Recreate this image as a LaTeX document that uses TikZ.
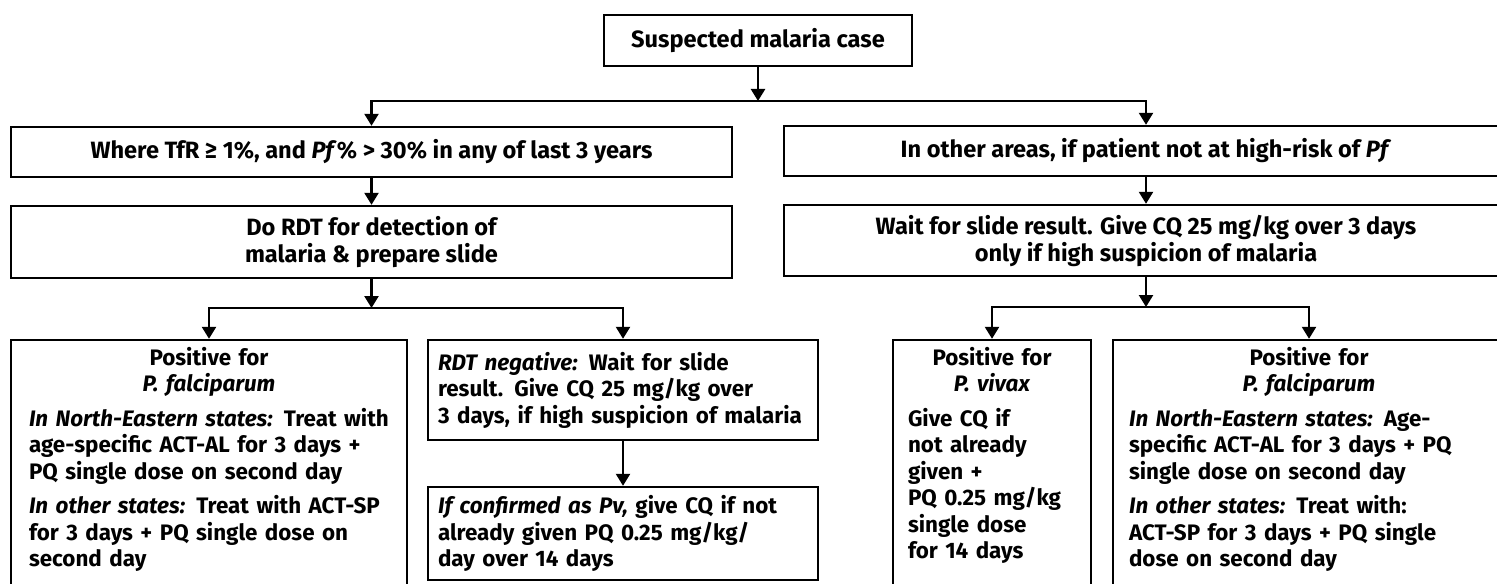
\documentclass[tikz,border=0pt]{standalone}
\usepackage{fontspec}
\setmainfont{Fira Sans}
\usetikzlibrary{arrows.meta}

\tikzset{
  box/.style={draw, line width=1.2pt, inner sep=0pt},
  boxtext/.style={font=\fontsize{11.2}{13.25}\selectfont\bfseries},
  toptext/.style={font=\fontsize{11.8}{13.5}\selectfont\bfseries},
  arrowline/.style={line width=1.2pt, -{Triangle[width=7pt,length=6pt]}},
}

\begin{document}
\begin{tikzpicture}[x=0.5pt,y=0.5pt,yscale=-1]
	\useasboundingbox (0,0) rectangle (1497,583);
	\clip (0,0) rectangle (1497,583);

	% Top box
	\node[box, toptext, minimum width=154pt, minimum height=25.5pt] (case) at (758,40.5) {Suspected malaria case};

	% First row
	\node[box, toptext, minimum width=360.5pt, minimum height=25pt] (where) at (371.5,152) {Where TfR ≥ 1\%, and \textit{Pf}\% > 30\% in any of last 3 years};
	\node[box, toptext, minimum width=362pt, minimum height=25pt] (other) at (1146,151) {In other areas, if patient not at high-risk of \textit{Pf}};

	% Second row
	\node[box, toptext, align=center, minimum width=360.5pt, minimum height=36pt] (rdt) at (371.5,242) {Do RDT for detection of\\malaria \& prepare slide};
	\node[box, toptext, align=center, minimum width=362pt, minimum height=35.5pt] (wait) at (1146,240.5) {Wait for slide result. Give CQ 25 mg/kg over 3 days\\only if high suspicion of malaria};

	% Third row, left side
	\node[box, minimum width=198pt, minimum height=130pt] (pfL) at (209,470) {};
	\node[box, boxtext, align=left, inner xsep=5pt, text width=185pt, minimum height=50pt] (neg) at (623,390) {\textit{RDT negative:} Wait for slide\\result. Give CQ 25 mg/kg over\\3 days, if high suspicion of malaria};
	\node[box, boxtext, align=left, inner xsep=5pt, text width=185pt, minimum height=46.5pt] (pv1) at (623,533.5) {\textit{If confirmed as Pv,} give CQ if not\\already given PQ 0.25 mg/kg/\\day over 14 days};

	% Third row, right side
	\node[box, minimum width=99pt, minimum height=130pt] (vivax) at (992,470) {};
	\node[box, minimum width=196pt, minimum height=130pt] (pfR) at (1309,470) {};

	% Text Node
	\node[boxtext, inner sep=0pt, anchor=north, text width=180pt, yshift=-4pt] (pfLtext) at (pfL.north) {\centering Positive for\\\textit{P. falciparum}\par\vspace{4pt}\raggedright
		\textit{In North-Eastern states:} Treat with\\age-specific ACT-AL for 3 days +\\PQ single dose on second day\par\vspace{4pt}
		\textit{In other states:} Treat with ACT-SP\\for 3 days + PQ single dose on\\second day};
	% Text Node
	\node[boxtext, inner sep=0pt, anchor=north, text width=84pt, yshift=-4pt] (vivaxtext) at (vivax.north) {\centering Positive for\\\textit{P. vivax}\par\vspace{4pt}\raggedright
		Give CQ if\\not already\\given +\\PQ 0.25 mg/kg\\single dose\\for 14 days};
	% Text Node
	\node[boxtext, inner sep=0pt, anchor=north, text width=180pt, yshift=-4pt] (pfRtext) at (pfR.north) {\centering Positive for\\\textit{P. falciparum}\par\vspace{4pt}\raggedright
		\textit{In North-Eastern states:} Age-\\specific ACT-AL for 3 days + PQ\\single dose on second day\par\vspace{4pt}
		\textit{In other states:} Treat with:\\ACT-SP for 3 days + PQ single\\dose on second day};

	% Connectors
	\coordinate (split1) at (758,101);
	\coordinate (split2) at (371.5,308);
	\coordinate (split3) at (1146,307);
	\draw[arrowline] (case) -- (split1);
	\draw[arrowline] (split1) -| (where);
	\draw[arrowline] (split1) -| (other);
	\draw[arrowline] (where) -- (rdt);
	\draw[arrowline] (other) -- (wait);
	\draw[arrowline] (rdt) -- (split2);
	\draw[arrowline] (split2) -| (pfL);
	\draw[arrowline] (split2) -| (neg);
	\draw[arrowline] (neg) -- (pv1);
	\draw[arrowline] (wait) -- (split3);
	\draw[arrowline] (split3) -| (vivax);
	\draw[arrowline] (split3) -| (pfR);
\end{tikzpicture}
\end{document}
